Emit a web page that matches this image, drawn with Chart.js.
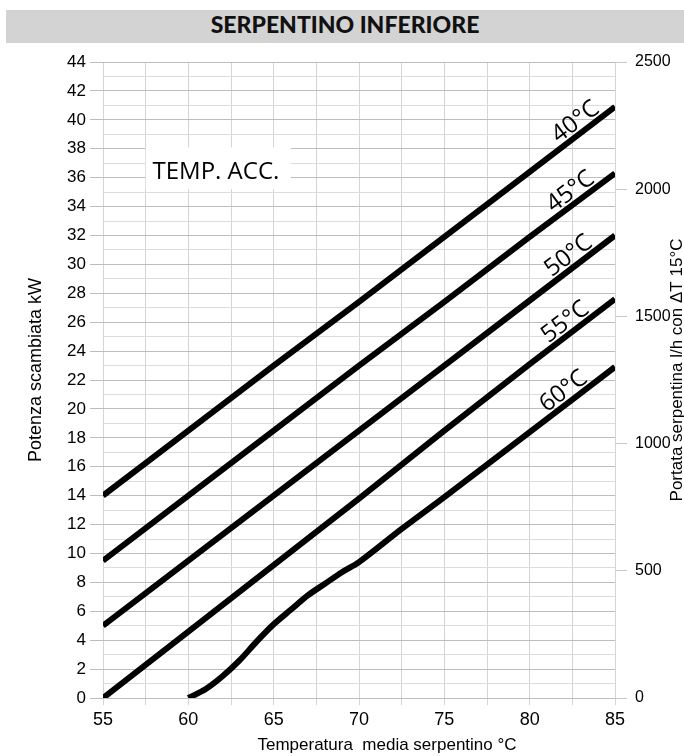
<!DOCTYPE html>
<html>
<head>
<meta charset="utf-8">
<script src="https://cdn.jsdelivr.net/npm/chart.js@4.4.1/dist/chart.umd.min.js"></script>
<style>
  html, body { margin: 0; padding: 0; background: #fff; }
  #wrap { position: relative; width: 684px; height: 756px; }
  #myChart { position: absolute; left: 0; top: 0; }
  #title {
    position: absolute; left: 6px; top: 10px; width: 678px; height: 33px;
    background: #d3d3d3; color: #111; text-align: center; line-height: 34px;
    font: 900 23px Lato, "Noto Sans", sans-serif;
  }
</style>
</head>
<body>
<div id="wrap">
  <canvas id="myChart" width="684" height="756"></canvas>
  <div id="title">SERPENTINO INFERIORE</div>
</div>
<script>
// temperatura media serpentino (°C) and potenza scambiata (kW) per temp. accumulo
const tempX = [55, 60, 65, 70, 75, 80, 85];
const acc40 = [14, 18.5, 23, 27.4, 31.9, 36.4, 40.9];
const acc45 = [9.5, 14, 18.5, 23, 27.4, 31.9, 36.3];
const acc50 = [5, 9.5, 14, 18.5, 23, 27.5, 32];
const acc55 = [0, 4.6, 9.2, 13.8, 18.5, 23.1, 27.6];
const tempX60 = [60, 61, 62, 63, 64, 65, 66, 67, 68, 69, 70, 72.5, 75, 80, 85];
const acc60 = [0, 0.6, 1.5, 2.6, 3.9, 5.1, 6.1, 7.1, 7.9, 8.7, 9.4, 11.7, 13.9, 18.4, 22.9];

const seriesNames = ["40°C", "45°C", "50°C", "55°C", "60°C"];
const labelAtX = [83.2, 82.9, 82.8, 82.6, 82.5];
const rightTicks = [0, 500, 1000, 1500, 2000, 2500];

function pts(xs, ys) {
  return xs.map((x, i) => ({x: x, y: ys[i]}));
}

const series = [
  pts(tempX, acc40), pts(tempX, acc45), pts(tempX, acc50),
  pts(tempX, acc55), pts(tempX60, acc60)
];

// labels drawn along each curve, plus the TEMP. ACC. box and axis titles
const decor = {
  id: "decor",
  beforeDatasetsDraw(chart) {
    const ctx = chart.ctx, xs = chart.scales.x, ys = chart.scales.y;
    const x0 = xs.getPixelForValue(57.5), x1 = xs.getPixelForValue(66);
    const y0 = ys.getPixelForValue(38.1), y1 = ys.getPixelForValue(35.2);
    ctx.save();
    ctx.fillStyle = "#fff";
    ctx.fillRect(x0, y0, x1 - x0, y1 - y0);
    ctx.fillStyle = "#000";
    ctx.font = "24px 'Open Sans'";
    ctx.textBaseline = "middle";
    ctx.fillText("TEMP. ACC.", xs.getPixelForValue(57.9), ys.getPixelForValue(36.4));
    ctx.restore();
  },
  afterDraw(chart) {
    const ctx = chart.ctx, xs = chart.scales.x, ys = chart.scales.y;
    ctx.save();
    ctx.fillStyle = "#000";
    ctx.font = "24px 'Open Sans'";
    ctx.textAlign = "center";
    ctx.textBaseline = "alphabetic";
    series.forEach((data, i) => {
      const lx = labelAtX[i];
      let k = 1;
      while (k < data.length - 1 && data[k].x < lx) k++;
      const a = data[k - 1], b = data[k];
      const t = (lx - a.x) / (b.x - a.x);
      const ly = a.y + t * (b.y - a.y);
      const px = xs.getPixelForValue(lx), py = ys.getPixelForValue(ly);
      const ang = Math.atan2(ys.getPixelForValue(b.y) - ys.getPixelForValue(a.y),
                             xs.getPixelForValue(b.x) - xs.getPixelForValue(a.x));
      ctx.save();
      ctx.translate(px, py);
      ctx.rotate(ang);
      ctx.fillText(seriesNames[i], -2, -5);
      ctx.restore();
    });

    ctx.font = "17px 'Liberation Sans'";
    ctx.textAlign = "center";
    ctx.textBaseline = "middle";
    ctx.fillText("Temperatura  media serpentino °C", 387, 745);

    ctx.save();
    ctx.translate(36, 370);
    ctx.rotate(-Math.PI / 2);
    ctx.font = "18px 'Liberation Sans'";
    ctx.fillText("Potenza scambiata kW", 0, 0);
    ctx.restore();

    ctx.save();
    ctx.translate(677, 370);
    ctx.rotate(-Math.PI / 2);
    ctx.font = "17px 'Liberation Sans'";
    ctx.fillText("Portata serpentina l/h con \u0394T 15°C", 0, 0);
    ctx.restore();
    ctx.restore();
  }
};

new Chart("myChart", {
  type: "line",
  data: {
    datasets: series.map((d, i) => ({
      label: seriesNames[i],
      data: d,
      borderColor: "#000",
      borderWidth: 6,
      borderCapStyle: "butt",
      pointRadius: 0,
      fill: false,
      tension: i === 4 ? 0.3 : 0
    }))
  },
  options: {
    responsive: false,
    animation: false,
    layout: {padding: {top: 62, left: 0, right: 0, bottom: 0}},
    plugins: {
      legend: {display: false},
      title: {display: false},
      tooltip: {enabled: false}
    },
    scales: {
      x: {
        type: "linear",
        min: 55, max: 85,
        border: {display: false},
        grid: {color: "#d4d4d4", tickLength: 7, tickColor: "#d4d4d4"},
        ticks: {
          stepSize: 2.5, padding: 4, color: "#000",
          font: {family: "'Liberation Sans'", size: 18},
          callback: v => (v % 5 === 0 ? v : "")
        },
        afterFit: s => { s.height = 58; }
      },
      y: {
        position: "left",
        min: 0, max: 44,
        border: {display: false},
        grid: {
          color: c => (c.tick && c.tick.value % 2 === 0 ? "#bdbdbd" : "#dcdcdc"),
          tickColor: c => (c.tick && c.tick.value % 2 === 0 ? "#bdbdbd" : "rgba(0,0,0,0)"),
          tickLength: 13
        },
        ticks: {
          stepSize: 1, padding: 4, color: "#000", autoSkip: false,
          font: {family: "'Liberation Sans'", size: 17},
          callback: v => (v % 2 === 0 ? v : "")
        },
        afterFit: s => { s.width = 103; }
      },
      y2: {
        position: "right",
        min: 0, max: 2500,
        border: {display: false},
        grid: {drawOnChartArea: false, tickLength: 12, color: "#c8c8c8"},
        ticks: {
          stepSize: 500, padding: 8, color: "#000",
          font: {family: "'Liberation Sans'", size: 16},
          callback: v => (rightTicks.includes(v) ? v : "")
        },
        afterFit: s => { s.width = 69; }
      }
    }
  },
  plugins: [decor]
});
</script>
</body>
</html>
